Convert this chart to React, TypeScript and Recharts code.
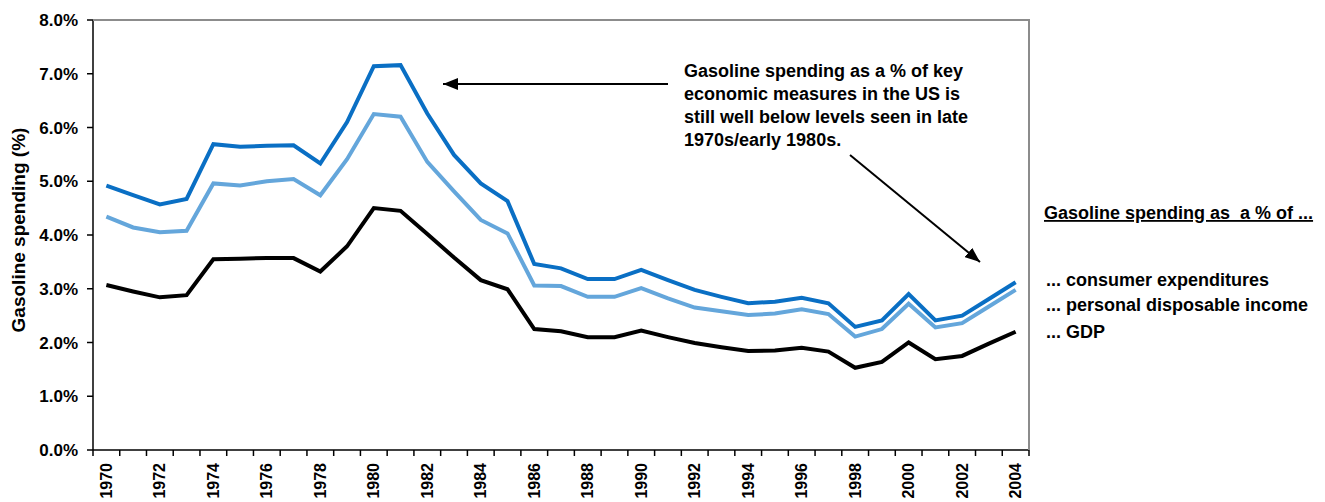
import React from "react"
import { LineChart, Line, XAxis, YAxis } from "recharts"

const years = [
  "1970", "1971", "1972", "1973", "1974", "1975", "1976", "1977", "1978", "1979",
  "1980", "1981", "1982", "1983", "1984", "1985", "1986", "1987", "1988", "1989",
  "1990", "1991", "1992", "1993", "1994", "1995", "1996", "1997", "1998", "1999",
  "2000", "2001", "2002", "2003", "2004",
]

// gasoline spending, % of consumer expenditures
const consumerExpenditures = [
  4.92, 4.74, 4.57, 4.67, 5.69, 5.64, 5.66, 5.67, 5.33, 6.10,
  7.14, 7.16, 6.26, 5.49, 4.96, 4.63, 3.46, 3.38, 3.18, 3.18,
  3.35, 3.16, 2.98, 2.85, 2.73, 2.76, 2.83, 2.73, 2.29, 2.41,
  2.90, 2.41, 2.50, 2.81, 3.12,
]

// % of personal disposable income
const disposableIncome = [
  4.34, 4.14, 4.05, 4.08, 4.96, 4.92, 5.00, 5.04, 4.74, 5.41,
  6.25, 6.20, 5.36, 4.81, 4.28, 4.03, 3.06, 3.05, 2.85, 2.85,
  3.01, 2.82, 2.65, 2.58, 2.51, 2.54, 2.62, 2.53, 2.11, 2.25,
  2.72, 2.28, 2.36, 2.67, 2.98,
]

// % of GDP
const gdpShare = [
  3.07, 2.95, 2.84, 2.88, 3.55, 3.56, 3.57, 3.57, 3.32, 3.79,
  4.50, 4.45, 4.02, 3.58, 3.16, 2.99, 2.25, 2.21, 2.10, 2.10,
  2.22, 2.10, 1.99, 1.91, 1.84, 1.85, 1.90, 1.83, 1.53, 1.64,
  2.00, 1.69, 1.75, 1.98, 2.20,
]

const yTicks = [0, 1, 2, 3, 4, 5, 6, 7, 8]

const seriesInfo = [
  { key: "consumer", name: "... consumer expenditures", color: "#0A6FC4" },
  { key: "income", name: "... personal disposable income", color: "#64A6DB" },
  { key: "gdp", name: "... GDP", color: "#000000" },
]

const legendTitle = "Gasoline spending as  a % of ..."
const yTitle = "Gasoline spending (%)"
const noteLines = [
  "Gasoline spending as a % of key",
  "economic measures in the US is",
  "still well below levels seen in late",
  "1970s/early 1980s.",
]

const FONT = "Arial, 'Liberation Sans', Helvetica, sans-serif"

const data = years.map((year, i) => ({
  year,
  consumer: consumerExpenditures[i],
  income: disposableIncome[i],
  gdp: gdpShare[i],
}))

// tick marks sit on the category boundaries, labels on every other year
const YearTick = (props: any) => {
  const { x, y, payload, index } = props
  const half = payload?.offset ?? 0
  const isLast = index === years.length - 1
  const showLabel = Number(payload.value) % 2 === 0
  return (
    <g>
      <line x1={x - half} y1={y} x2={x - half} y2={y + 6} stroke="#000" strokeWidth={1.5} />
      {isLast && <line x1={x + half} y1={y} x2={x + half} y2={y + 6} stroke="#000" strokeWidth={1.5} />}
      {showLabel && (
        <text
          transform={`translate(${x}, ${y + 13}) rotate(-90)`}
          textAnchor="end"
          dominantBaseline="central"
          fontFamily={FONT}
          fontWeight="bold"
          fontSize={16}
          fill="#000"
        >
          {payload.value}
        </text>
      )}
    </g>
  )
}

const Overlay = () => (
  <svg
    width={1325}
    height={502}
    style={{ position: "absolute", left: 0, top: 0, pointerEvents: "none" }}
    fontFamily={FONT}
    fontWeight="bold"
  >
    <defs>
      <marker id="head" markerWidth={15} markerHeight={12} refX={15} refY={6} orient="auto" markerUnits="userSpaceOnUse">
        <path d="M0,0 L15,6 L0,12 z" fill="#000" />
      </marker>
    </defs>

    {/* plot frame: gray top and right edges */}
    <path d="M93,20 L1029,20 L1029,450" fill="none" stroke="#8c8c8c" strokeWidth={2} />

    <text transform="translate(18, 230) rotate(-90)" textAnchor="middle" dominantBaseline="central" fontSize={19}>
      {yTitle}
    </text>

    {noteLines.map((line, i) => (
      <text key={i} x={684} y={76.5 + i * 23.3} fontSize={18}>
        {line}
      </text>
    ))}
    <line x1={668} y1={84} x2={443} y2={84} stroke="#000" strokeWidth={2} markerEnd="url(#head)" />
    <line x1={850} y1={155} x2={980} y2={262} stroke="#000" strokeWidth={2} markerEnd="url(#head)" />

    <text x={1044} y={219} fontSize={18} textDecoration="underline" style={{ whiteSpace: "pre" }}>
      {legendTitle}
    </text>
    {seriesInfo.map((s, i) => (
      <text key={s.key} x={1046} y={[286, 311, 338][i]} fontSize={18}>
        {s.name}
      </text>
    ))}
  </svg>
)

export default function App() {
  return (
    <div style={{ position: "absolute", left: 0, top: 0, width: 1325, height: 502, background: "#fff" }}>
      <LineChart width={1325} height={502} data={data} margin={{ top: 20, right: 296, bottom: 0, left: 0 }}>
        <XAxis
          dataKey="year"
          scale="band"
          interval={0}
          height={52}
          tickSize={0}
          tickMargin={0}
          tickLine={false}
          axisLine={{ stroke: "#000", strokeWidth: 1.5 }}
          tick={<YearTick />}
        />
        <YAxis
          domain={[0, 8]}
          ticks={yTicks}
          width={93}
          tickSize={6}
          tickMargin={9}
          interval={0}
          tickFormatter={(v: number) => `${v.toFixed(1)}%`}
          tick={{ fill: "#000", fontSize: 17, fontWeight: "bold", fontFamily: FONT }}
          tickLine={{ stroke: "#000", strokeWidth: 1.5 }}
          axisLine={{ stroke: "#000", strokeWidth: 1.5 }}
        />
        {seriesInfo.map((s) => (
          <Line
            key={s.key}
            type="linear"
            dataKey={s.key}
            name={s.name}
            stroke={s.color}
            strokeWidth={4}
            dot={false}
            activeDot={false}
            isAnimationActive={false}
          />
        ))}
      </LineChart>
      <Overlay />
    </div>
  )
}
